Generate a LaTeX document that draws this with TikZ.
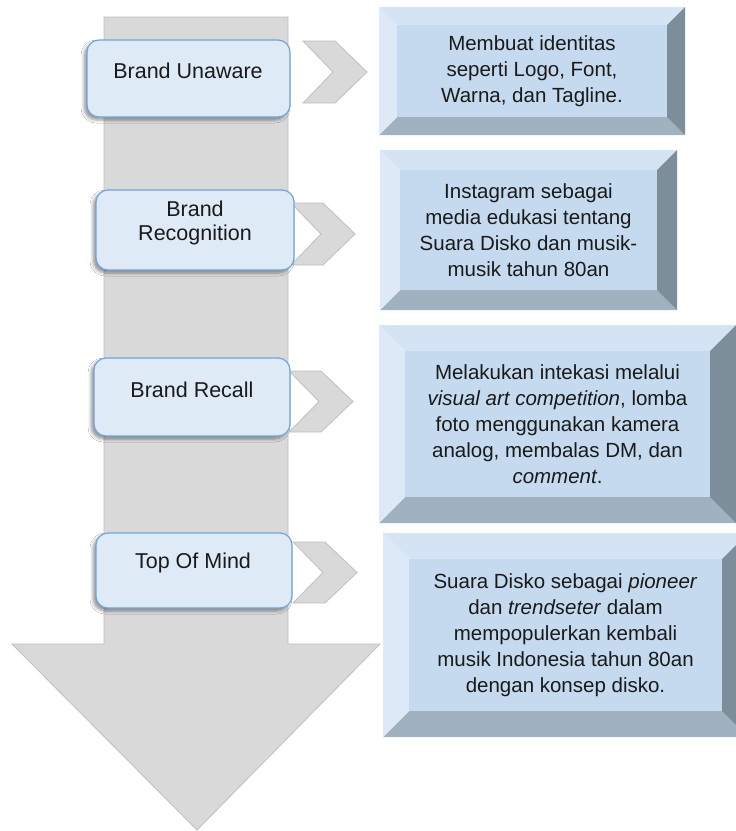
\documentclass[tikz,border=0pt]{standalone}
\usepackage{fontspec}
\setmainfont{Liberation Sans}
\usetikzlibrary{shadows.blur}
\definecolor{arrowfill}{HTML}{D9D9D9}
\definecolor{arrowline}{HTML}{BFBFBF}
\definecolor{stagefill}{HTML}{DEEBF7}
\definecolor{stageline}{HTML}{6FA5DA}
\definecolor{bvfacec}{HTML}{C5DAEE}
\definecolor{bvtopc}{HTML}{D4E4F4}
\definecolor{bvleftc}{HTML}{DDE9F6}
\definecolor{bvrightc}{HTML}{7D8E9B}
\definecolor{bvbotc}{HTML}{A0B1C0}
\definecolor{txt}{HTML}{1A1A1A}
\tikzset{
  bigarrow/.style={fill=arrowfill, draw=arrowline, line width=0.8pt},
  chev/.style={fill=arrowfill, draw=arrowline, line width=0.8pt},
  stagebox/.style={fill=stagefill, draw=stageline, line width=1.2pt, rounded corners=12pt,
    blur shadow={shadow xshift=-3pt, shadow yshift=-3pt, shadow blur radius=3pt, shadow opacity=40}},
  stagetext/.style={text=txt, font=\fontsize{21.5}{24}\selectfont, align=center, inner sep=0pt},
  bvtop/.style={fill=bvtopc},
  bvbot/.style={fill=bvbotc},
  bvleft/.style={fill=bvleftc},
  bvright/.style={fill=bvrightc},
  bvface/.style={fill=bvfacec, inner sep=0pt, text=txt, align=center,
    font=\fontsize{20.5}{26}\selectfont},
}
\newcommand\bevelbox[7]{%
  \fill[bvtop] (#2,#3) -- (#4,#3) -- (#4-#6,#3+#6) -- (#2+#6,#3+#6) -- cycle;
  \fill[bvbot] (#2,#5) -- (#4,#5) -- (#4-#6,#5-#6) -- (#2+#6,#5-#6) -- cycle;
  \fill[bvleft] (#2,#3) -- (#2+#6,#3+#6) -- (#2+#6,#5-#6) -- (#2,#5) -- cycle;
  \fill[bvright] (#4,#3) -- (#4-#6,#3+#6) -- (#4-#6,#5-#6) -- (#4,#5) -- cycle;
  \node[bvface, minimum width=#4-#2-2*#6, minimum height=#5-#3-2*#6] (#1) at ({(#2+#4)/2},{(#3+#5)/2}) {#7};
}
\newcommand\chevshape[4]{% x-left, y-top, y-bottom, x-tip
  \draw[chev] (#1,#2) -- (#1+32,#2) -- (#4,{(#2+#3)/2}) -- (#1+32,#3) -- (#1,#3) -- (#1+30,{(#2+#3)/2}) -- cycle;
}
\begin{document}
\begin{tikzpicture}[x=1pt,y=-1pt]
\clip (0,0) rectangle (736,831);
\fill[white] (0,0) rectangle (736,831);
% big down arrow
\draw[bigarrow] (104,17) -- (288,17) -- (288,644) -- (380,644) -- (197,830) -- (12,644) -- (104,644) -- cycle;
% chevrons
\chevshape{303}{41}{103}{367}
\chevshape{291}{203}{265}{355}
\chevshape{289}{371}{432}{353}
\chevshape{293}{542}{603}{357}
% stage boxes
\node[stagebox, minimum width=203, minimum height=77] (s1) at (188.5,78.5) {};
\node[stagebox, minimum width=198, minimum height=80] (s2) at (195,230) {};
\node[stagebox, minimum width=196, minimum height=78] (s3) at (192,397) {};
\node[stagebox, minimum width=196, minimum height=75] (s4) at (194,570.5) {};
\node[stagetext] (t1) at (188,71) {Brand Unaware};
\node[stagetext] (t2) at (195,223) {Brand\\Recognition};
\node[stagetext] (t3) at (192,390) {Brand Recall};
\node[stagetext] (t4) at (193,563) {Top Of Mind};
% bevel boxes
\bevelbox{b1}{379}{7}{685}{135}{18}{Membuat identitas\\seperti Logo, Font,\\Warna, dan Tagline.}
\bevelbox{b2}{380}{150}{677}{310}{20}{Instagram sebagai\\media edukasi tentang\\Suara Disko dan musik-\\musik tahun 80an}
\bevelbox{b3}{379}{325}{736}{523}{26}{Melakukan intekasi melalui\\\textit{visual art competition}, lomba\\foto menggunakan kamera\\analog, membalas DM, dan\\\textit{comment}.}
\bevelbox{b4}{383}{533}{748}{737}{26}{Suara Disko sebagai \textit{pioneer}\\dan \textit{trendseter} dalam\\mempopulerkan kembali\\musik Indonesia tahun 80an\\dengan konsep disko.}
\end{tikzpicture}
\end{document}
